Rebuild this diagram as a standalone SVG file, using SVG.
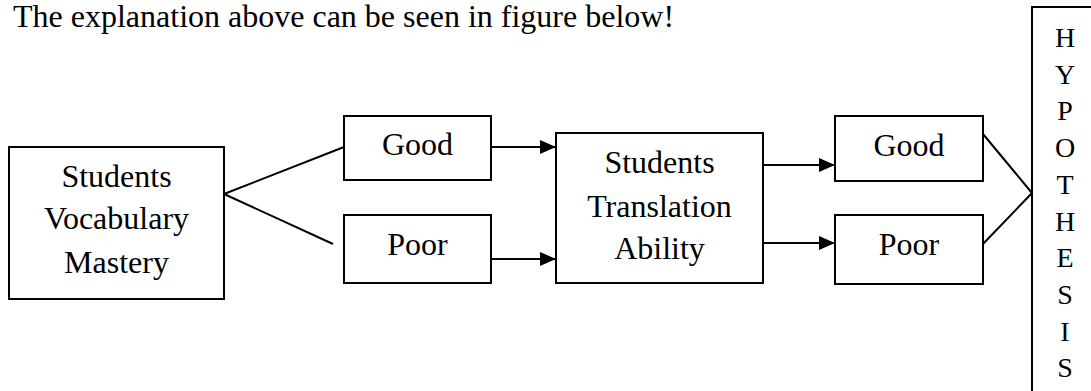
<svg xmlns="http://www.w3.org/2000/svg" width="1091" height="391" viewBox="0 0 1091 391">
<style>
text{font-family:"Liberation Serif","Times New Roman",serif;fill:#000;}
.t{font-size:32px;text-anchor:middle;}
.h{font-size:28px;text-anchor:middle;}
.box{fill:#fff;stroke:#000;stroke-width:2;}
.ln{stroke:#000;stroke-width:2;fill:none;}
</style>
<defs>
<marker id="ah" markerWidth="16" markerHeight="14" refX="16" refY="7" orient="auto" markerUnits="userSpaceOnUse">
<path d="M0,0 L16,7 L0,14 Z" fill="#000"/>
</marker>
</defs>
<text x="13" y="27" style="font-size:32px">The explanation above can be seen in figure below!</text>
<g id="connectors">
<line class="ln" x1="224" y1="194" x2="344" y2="147"/>
<line class="ln" x1="224" y1="194" x2="333" y2="244"/>
<line class="ln" x1="491" y1="147" x2="556" y2="147" marker-end="url(#ah)"/>
<line class="ln" x1="491" y1="259" x2="556" y2="259" marker-end="url(#ah)"/>
<line class="ln" x1="763" y1="165" x2="835" y2="165" marker-end="url(#ah)"/>
<line class="ln" x1="763" y1="243" x2="835" y2="243" marker-end="url(#ah)"/>
<line class="ln" x1="983" y1="134" x2="1032" y2="193"/>
<line class="ln" x1="983" y1="244" x2="1032" y2="193"/>
</g>
<g id="vocab">
<rect class="box" x="9" y="147" width="215" height="152"/>
<text class="t" x="116.5" y="187">Students</text>
<text class="t" x="116.5" y="229">Vocabulary</text>
<text class="t" x="116.5" y="273">Mastery</text>
</g>
<g id="good1">
<rect class="box" x="344" y="116" width="147" height="64"/>
<text class="t" x="417.5" y="155">Good</text>
</g>
<g id="poor1">
<rect class="box" x="344" y="215" width="147" height="68"/>
<text class="t" x="417.5" y="255">Poor</text>
</g>
<g id="translation">
<rect class="box" x="556" y="133" width="207" height="150"/>
<text class="t" x="659.5" y="173">Students</text>
<text class="t" x="659.5" y="217">Translation</text>
<text class="t" x="659.5" y="259">Ability</text>
</g>
<g id="good2">
<rect class="box" x="835" y="116" width="148" height="65"/>
<text class="t" x="909" y="156">Good</text>
</g>
<g id="poor2">
<rect class="box" x="835" y="215" width="148" height="69"/>
<text class="t" x="909" y="255">Poor</text>
</g>
<g id="hypothesis">
<rect class="box" x="1032" y="7" width="70" height="400"/>
<text class="h" x="1065" y="47">H</text>
<text class="h" x="1065" y="84">Y</text>
<text class="h" x="1065" y="120">P</text>
<text class="h" x="1065" y="157">O</text>
<text class="h" x="1065" y="194">T</text>
<text class="h" x="1065" y="231">H</text>
<text class="h" x="1065" y="267">E</text>
<text class="h" x="1065" y="304">S</text>
<text class="h" x="1065" y="341">I</text>
<text class="h" x="1065" y="377">S</text>
</g>
</svg>
